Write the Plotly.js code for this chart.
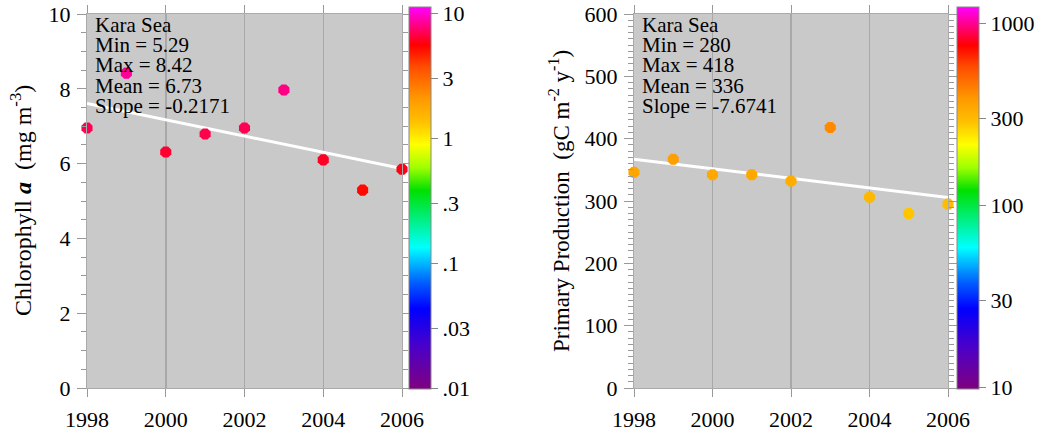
<!DOCTYPE html>
<html>
<head>
<meta charset="utf-8">
<script src="https://cdn.plot.ly/plotly-3.0.1.min.js"></script>
<style>html,body{margin:0;padding:0;background:#fff;}#chart{width:1053px;height:433px;}</style>
</head>
<body>
<div id="chart"></div>
<script>
// ---- data ----
const years = [1998, 1999, 2000, 2001, 2002, 2003, 2004, 2005, 2006];
const chlValues = [6.95, 8.42, 6.31, 6.79, 6.95, 7.97, 6.10, 5.29, 5.85];
const ppValues = [346, 367, 342, 342, 332, 418, 306, 280, 295];
const chlLabels = ["Kara Sea", "Min = 5.29", "Max = 8.42", "Mean = 6.73", "Slope = -0.2171"];
const ppLabels = ["Kara Sea", "Min = 280", "Max = 418", "Mean = 336", "Slope = -7.6741"];
const chlCbarTicks = [0.01, 0.03, 0.1, 0.3, 1, 3, 10];
const chlCbarText = [".01", ".03", ".1", ".3", "1", "3", "10"];
const ppCbarTicks = [10, 30, 100, 300, 1000];
const ppCbarText = ["10", "30", "100", "300", "1000"];
const xTicks = [1998, 2000, 2002, 2004, 2006];

const W = 1053, H = 433;
const serif = "Liberation Serif, Times New Roman, serif";
const FS = 22;

function fit(x, y) {
  const n = x.length;
  const mx = x.reduce((a, b) => a + b, 0) / n;
  const my = y.reduce((a, b) => a + b, 0) / n;
  let sxy = 0, sxx = 0;
  for (let i = 0; i < n; i++) { sxy += (x[i] - mx) * (y[i] - my); sxx += (x[i] - mx) ** 2; }
  const b = sxy / sxx;
  const a = my - b * mx;
  const xs = [x[0], x[n - 1]];
  return { x: xs, y: xs.map(v => a + b * v) };
}

const rainbow = [
  [0, '#800080'], [0.11, '#4b00c8'], [0.21, '#0000ff'], [0.28, '#0060ff'],
  [0.37, '#00ffff'], [0.52, '#00e000'], [0.58, '#a0ff00'], [0.64, '#ffff00'],
  [0.70, '#ffc000'], [0.76, '#ff9900'], [0.84, '#ff5000'], [0.90, '#ff0000'], [1.0, '#ff00ff']
];

const px = v => v / W;
const py = v => 1 - v / H;

const chlFit = fit(years, chlValues);
const ppFit = fit(years, ppValues);

const cbCommon = {
  thickness: 22, thicknessmode: 'pixels', len: 382, lenmode: 'pixels',
  yanchor: 'bottom', y: py(389), xanchor: 'left', xpad: 0, ypad: 0,
  outlinecolor: '#888', outlinewidth: 1, ticks: 'outside', ticklen: 7, tickcolor: '#888',
  tickfont: { family: serif, size: FS, color: '#000' }, tickmode: 'array'
};

const traces = [
  { x: chlFit.x, y: chlFit.y, xaxis: 'x', yaxis: 'y', mode: 'lines', line: { color: '#ffffff', width: 3 }, hoverinfo: 'skip', showlegend: false },
  {
    x: years, y: chlValues, xaxis: 'x', yaxis: 'y', mode: 'markers', cliponaxis: false, showlegend: false,
    marker: {
      symbol: 'octagon', size: 12, color: chlValues.map(v => Math.log10(v)),
      colorscale: rainbow, cmin: -2.008, cmax: 1.048, line: { width: 0 },
      colorbar: Object.assign({}, cbCommon, { x: px(409), tickvals: chlCbarTicks.map(Math.log10), ticktext: chlCbarText })
    }
  },
  { x: ppFit.x, y: ppFit.y, xaxis: 'x2', yaxis: 'y2', mode: 'lines', line: { color: '#ffffff', width: 3 }, hoverinfo: 'skip', showlegend: false },
  {
    x: years, y: ppValues, xaxis: 'x2', yaxis: 'y2', mode: 'markers', cliponaxis: false, showlegend: false,
    marker: {
      symbol: 'octagon', size: 12, color: ppValues.map(v => Math.log10(v)),
      colorscale: rainbow, cmin: 0.989, cmax: 3.088, line: { width: 0 },
      colorbar: Object.assign({}, cbCommon, { x: px(957), tickvals: ppCbarTicks.map(Math.log10), ticktext: ppCbarText })
    }
  }
];

function xax(domain, anchor) {
  return {
    domain: domain, anchor: anchor, range: [1998, 2006], tickmode: 'array', tickvals: xTicks,
    ticks: 'outside', ticklen: 8, tickcolor: '#999', showline: true, linecolor: '#aaa', mirror: 'ticks',
    showgrid: true, gridcolor: '#a8a8a8', gridwidth: 1.5, zeroline: false,
    tickfont: { family: serif, size: FS, color: '#000' }, ticklabelstandoff: 4
  };
}
function yax(domain, anchor, range, dtick, minorDtick) {
  return {
    domain: domain, anchor: anchor, range: range, dtick: dtick, tick0: 0,
    ticks: 'outside', ticklen: 9, tickcolor: '#999', showline: true, linecolor: '#aaa', mirror: 'ticks',
    showgrid: false, zeroline: false,
    minor: { dtick: minorDtick, ticks: 'outside', ticklen: 5, tickcolor: '#999', showgrid: false },
    tickfont: { family: serif, size: FS, color: '#000' }, ticklabelstandoff: 2
  };
}

const yDom = [py(388), py(14)];
const annotations = [];
const lineY = [25, 45, 65, 86, 106];
const AFS = 21;
chlLabels.forEach((t, i) => annotations.push({ text: t, xref: 'paper', yref: 'paper', x: px(93), y: py(lineY[i]), xanchor: 'left', yanchor: 'middle', showarrow: false, font: { family: serif, size: AFS, color: '#000' } }));
ppLabels.forEach((t, i) => annotations.push({ text: t, xref: 'paper', yref: 'paper', x: px(640), y: py(lineY[i]), xanchor: 'left', yanchor: 'middle', showarrow: false, font: { family: serif, size: AFS, color: '#000' } }));
annotations.push({ text: 'Chlorophyll <b><i>a</i></b>\u00a0\u00a0(mg m<sup>-3</sup>)', textangle: -90, xref: 'paper', yref: 'paper', x: px(21), y: py(201), xanchor: 'center', yanchor: 'middle', showarrow: false, font: { family: serif, size: 24, color: '#000' } });
annotations.push({ text: 'Primary Production\u00a0\u00a0(gC m<sup>-2</sup> y<sup>-1</sup>)', textangle: -90, xref: 'paper', yref: 'paper', x: px(559), y: py(201), xanchor: 'center', yanchor: 'middle', showarrow: false, font: { family: serif, size: 23, color: '#000' } });

const layout = {
  width: W, height: H, margin: { l: 0, r: 0, t: 0, b: 0 },
  paper_bgcolor: '#ffffff', plot_bgcolor: '#c9c9c9', showlegend: false,
  xaxis: xax([px(87), px(402)], 'y'),
  yaxis: yax(yDom, 'x', [0, 10], 2, 0.5),
  xaxis2: xax([px(634), px(948)], 'y2'),
  yaxis2: yax(yDom, 'x2', [0, 600], 100, 10),
  annotations: annotations
};

Plotly.newPlot('chart', traces, layout, { displayModeBar: false, staticPlot: true });
</script>
</body>
</html>
